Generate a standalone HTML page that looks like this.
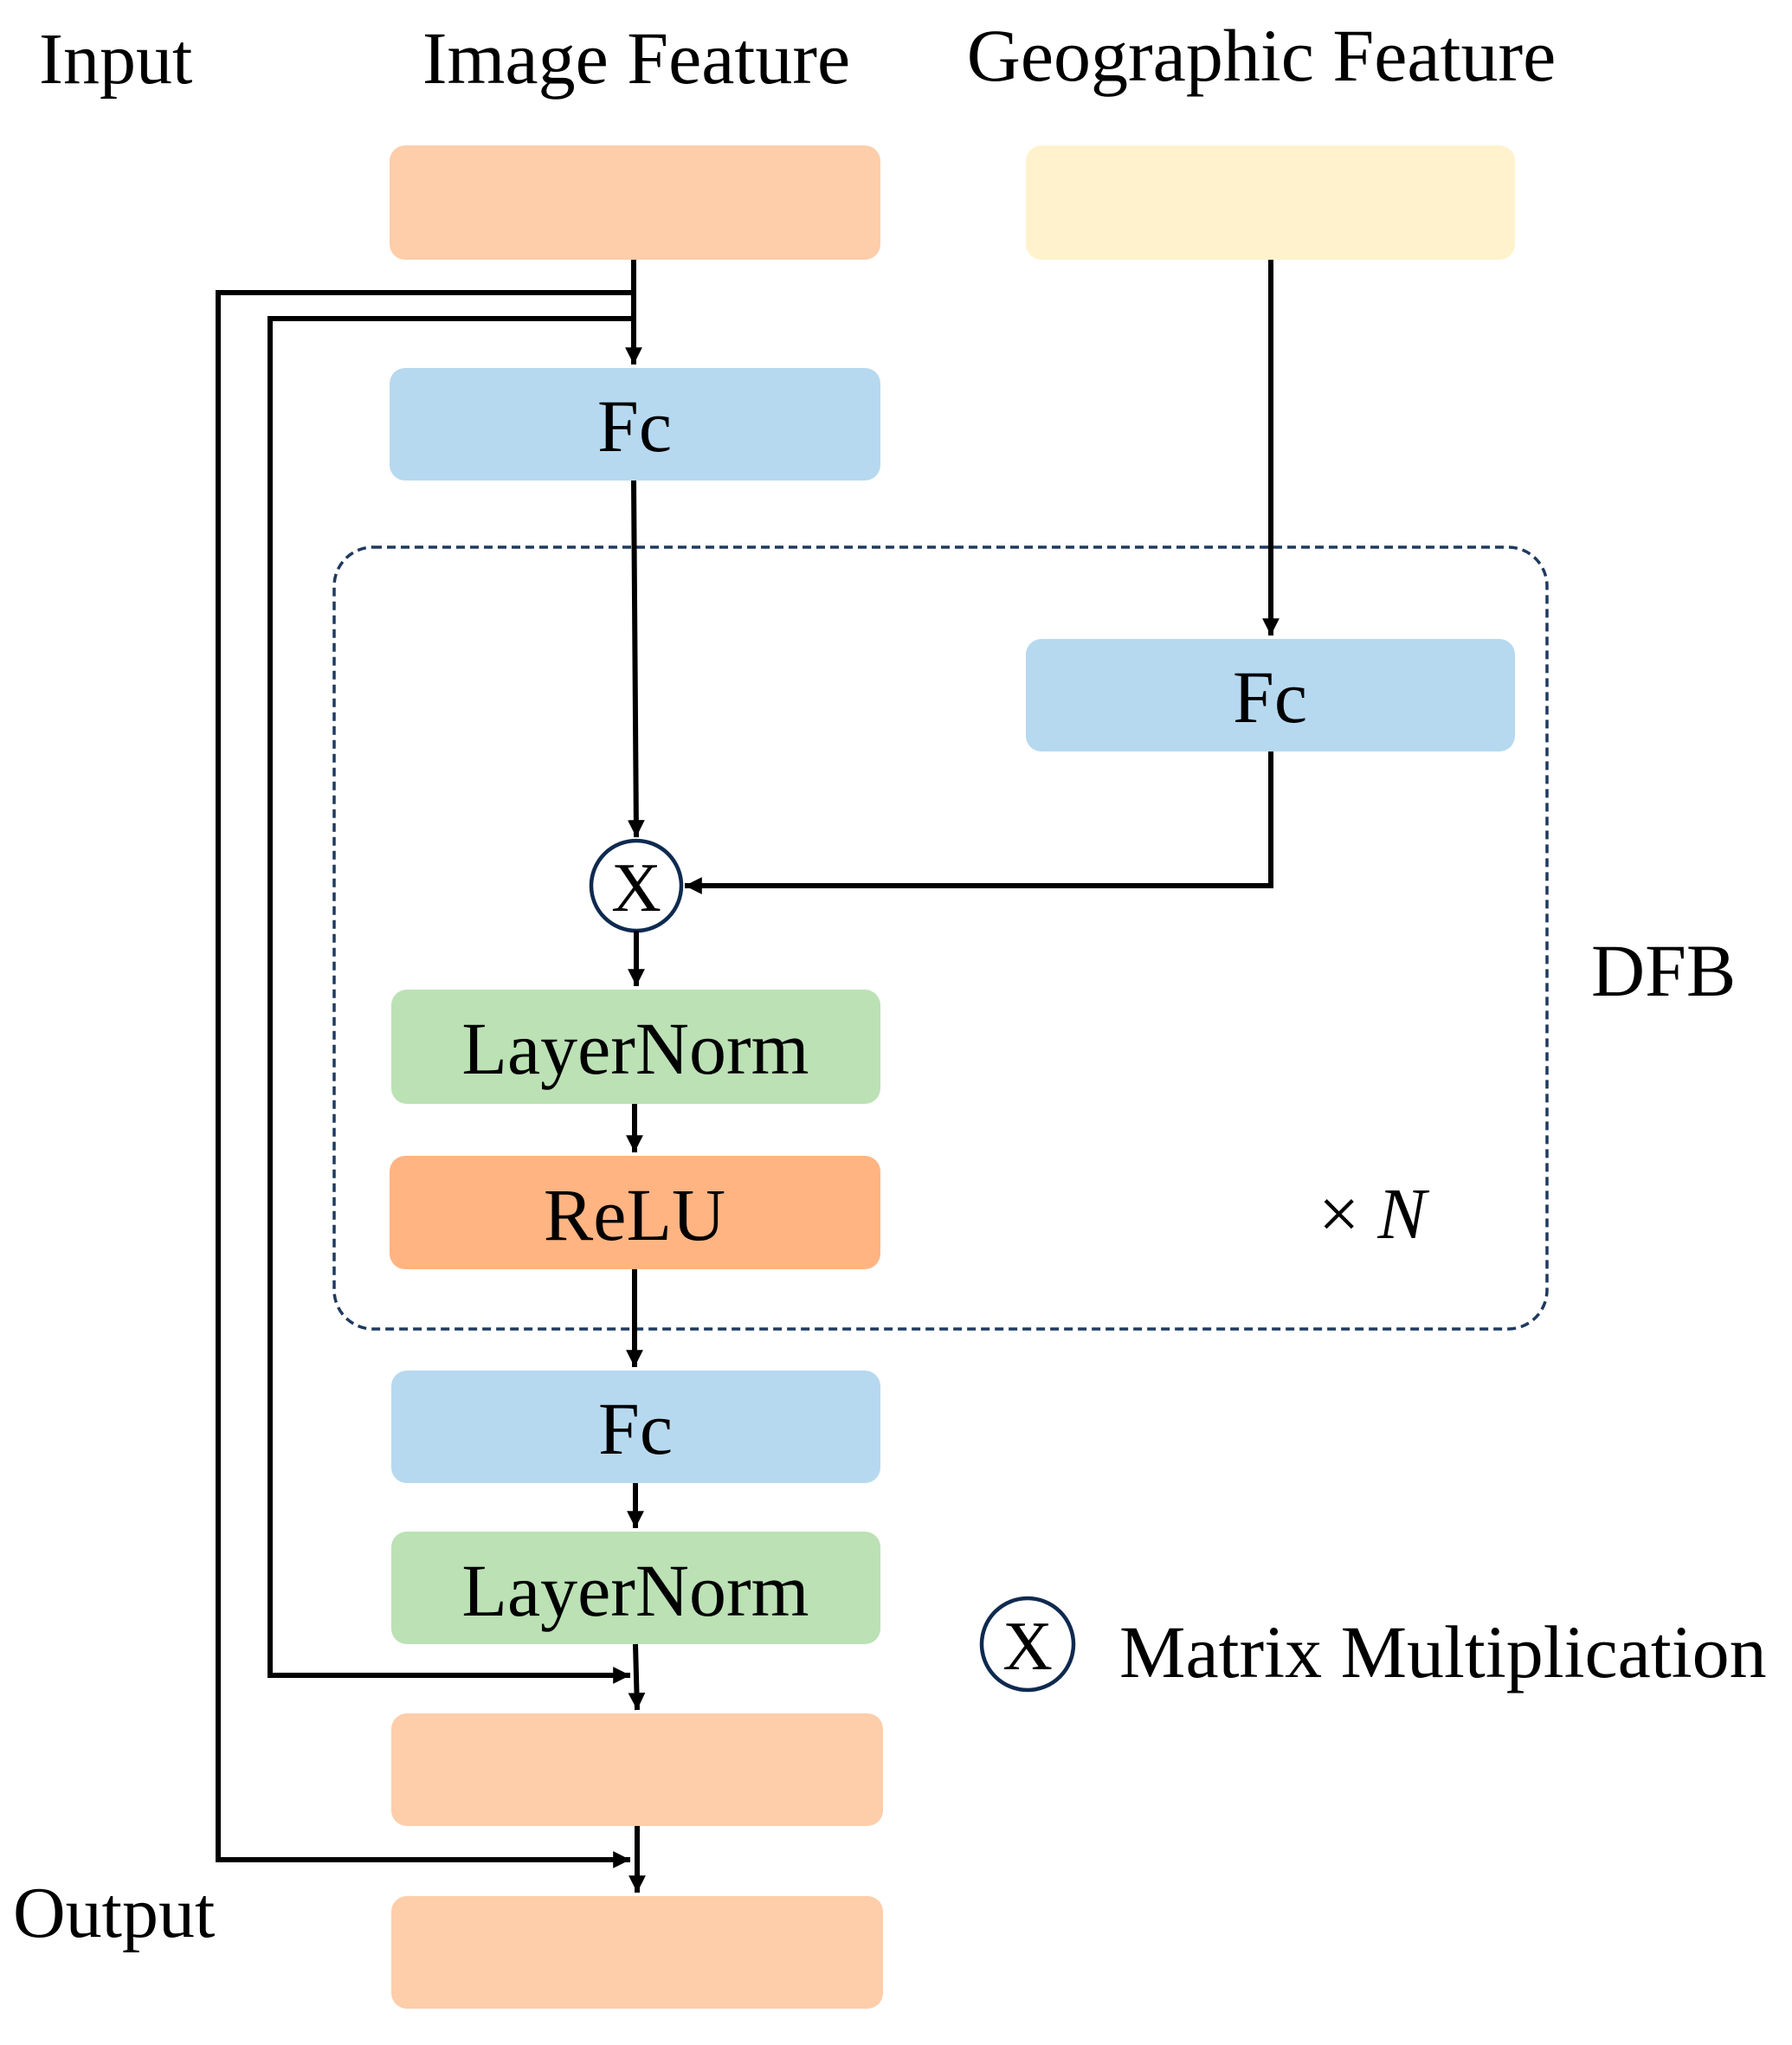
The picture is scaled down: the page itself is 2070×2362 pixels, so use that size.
<!DOCTYPE html>
<html><head><meta charset="utf-8"><style>
html,body{margin:0;padding:0;background:#fff;}
svg{display:block;}
text{font-family:"Liberation Serif",serif;fill:#000;}
</style></head><body>
<svg width="2070" height="2362" viewBox="0 0 2070 2362" xmlns="http://www.w3.org/2000/svg">
<defs>
<marker id="a" viewBox="0 0 10 10" refX="10" refY="5" markerWidth="3.3" markerHeight="3.3" orient="auto" markerUnits="strokeWidth"><path d="M0,0 L10,5 L0,10 z" fill="#000"/></marker>
</defs>
<!-- headings -->
<text x="45" y="96" font-size="84">Input</text>
<text x="735" y="96" font-size="86" text-anchor="middle">Image Feature</text>
<text x="1457" y="93" font-size="86" text-anchor="middle">Geographic Feature</text>

<!-- dashed DFB box -->
<rect x="386" y="632" width="1401" height="903" rx="45" fill="none" stroke="#1F3A5F" stroke-width="3.5" stroke-dasharray="10,6"/>
<text x="1838" y="1150" font-size="86">DFB</text>
<text x="1523" y="1430" font-size="84">× <tspan font-style="italic">N</tspan></text>

<!-- boxes -->
<rect x="450" y="168" width="567" height="132" rx="18" fill="#FECDA9"/>
<rect x="1185" y="168" width="565" height="132" rx="18" fill="#FFF2CC"/>
<rect x="450" y="425" width="567" height="130" rx="18" fill="#B6D9F0"/>
<text x="733" y="521" font-size="86" text-anchor="middle">Fc</text>
<rect x="1185" y="738" width="565" height="130" rx="18" fill="#B6D9F0"/>
<text x="1467" y="834" font-size="86" text-anchor="middle">Fc</text>
<rect x="452" y="1143" width="565" height="132" rx="18" fill="#BBE1B5"/>
<text x="734" y="1240" font-size="86" text-anchor="middle">LayerNorm</text>
<rect x="450" y="1335" width="567" height="131" rx="18" fill="#FFB482"/>
<text x="733" y="1432" font-size="86" text-anchor="middle">ReLU</text>
<rect x="452" y="1583" width="565" height="130" rx="18" fill="#B6D9F0"/>
<text x="734" y="1679" font-size="86" text-anchor="middle">Fc</text>
<rect x="452" y="1769" width="565" height="130" rx="18" fill="#BBE1B5"/>
<text x="734" y="1866" font-size="86" text-anchor="middle">LayerNorm</text>
<rect x="452" y="1979" width="568" height="130" rx="18" fill="#FECDA9"/>
<rect x="452" y="2190" width="568" height="130" rx="18" fill="#FECDA9"/>

<!-- circle X -->
<circle cx="735" cy="1023" r="52" fill="#fff" stroke="#0F2A50" stroke-width="4.5"/>
<text x="735" y="1052" font-size="80" text-anchor="middle">X</text>

<!-- legend -->
<circle cx="1187" cy="1899" r="53" fill="#fff" stroke="#0F2A50" stroke-width="4.5"/>
<text x="1187" y="1928" font-size="80" text-anchor="middle">X</text>
<text x="1293" y="1937" font-size="86">Matrix Multiplication</text>

<text x="15" y="2237" font-size="84">Output</text>

<!-- connectors -->
<g stroke="#000" stroke-width="6" fill="none">
<path d="M732,300 L732,421" marker-end="url(#a)"/>
<polyline points="732,338 252,338 252,2148 728,2148" marker-end="url(#a)"/>
<polyline points="732,368 312,368 312,1935 728,1935" marker-end="url(#a)"/>
<path d="M732,555 L735,967" marker-end="url(#a)"/>
<path d="M1468,300 L1468,734" marker-end="url(#a)"/>
<polyline points="1468,868 1468,1023 791,1023" marker-end="url(#a)"/>
<path d="M735,1075 L735,1139" marker-end="url(#a)"/>
<path d="M733,1275 L733,1331" marker-end="url(#a)"/>
<path d="M733,1466 L733,1579" marker-end="url(#a)"/>
<path d="M734,1713 L734,1765" marker-end="url(#a)"/>
<path d="M734,1899 L736,1975" marker-end="url(#a)"/>
<path d="M736,2109 L736,2186" marker-end="url(#a)"/>
</g>
</svg>
</body></html>
